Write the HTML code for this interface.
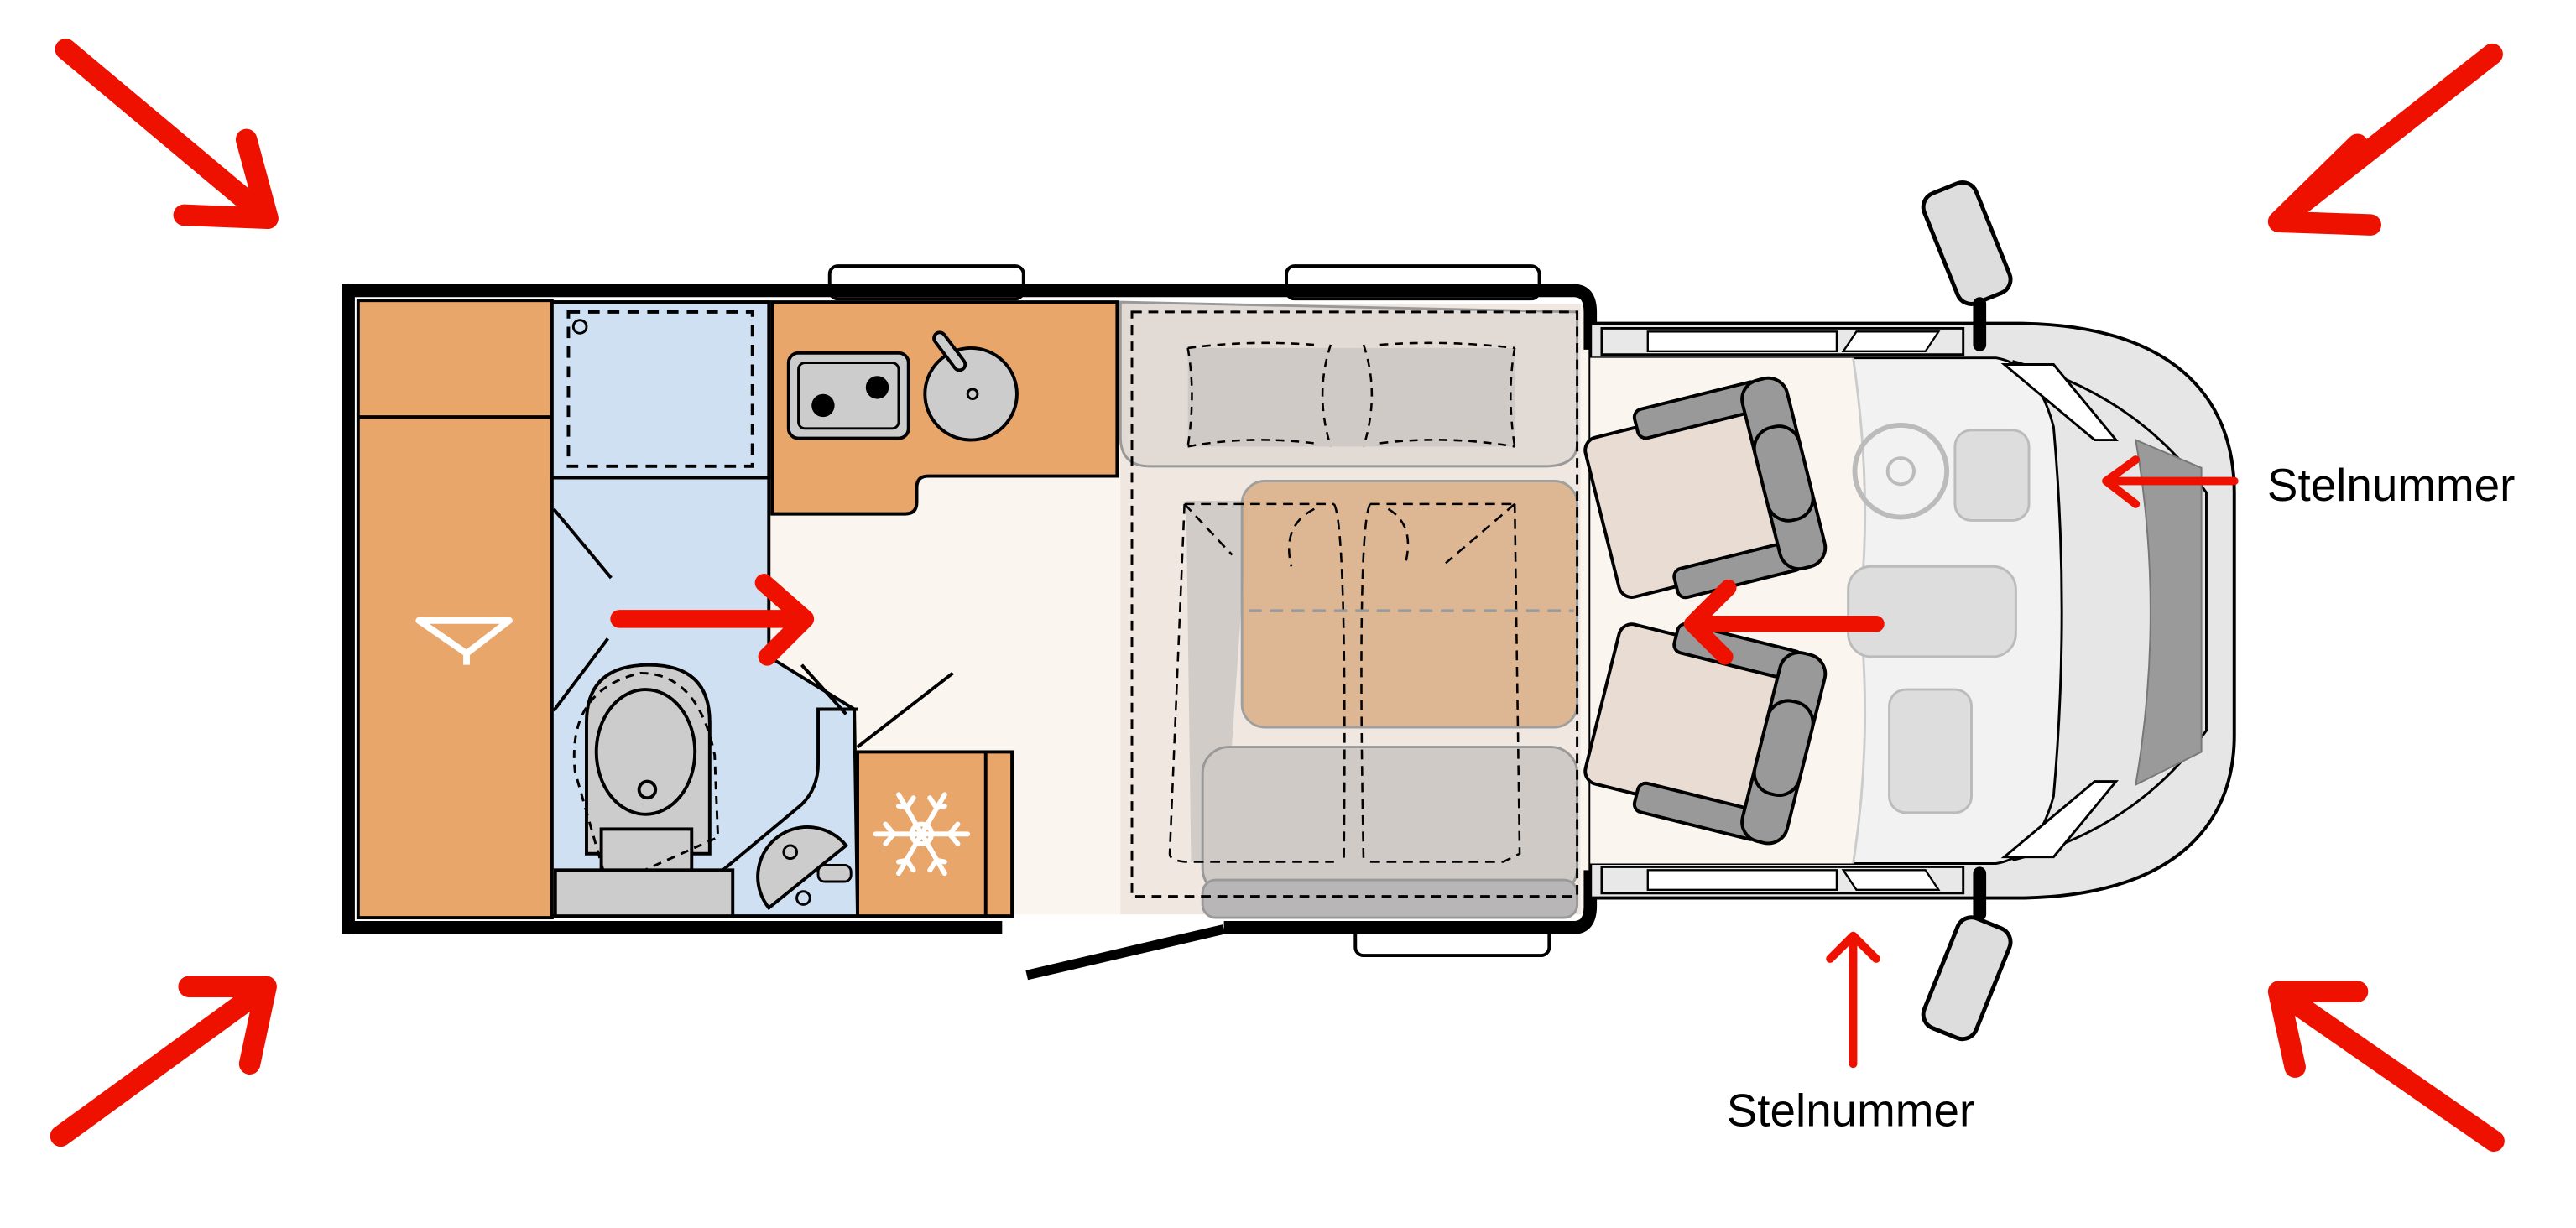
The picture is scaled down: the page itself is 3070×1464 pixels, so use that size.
<!DOCTYPE html>
<html><head><meta charset="utf-8"><style>
html,body{margin:0;padding:0;background:#fff;}
svg{display:block;}
text{font-family:"Liberation Sans",Arial,sans-serif;}
</style></head><body>
<svg width="3070" height="1464" viewBox="0 0 1568 748" preserveAspectRatio="none" xmlns="http://www.w3.org/2000/svg">
<rect width="1568" height="748" fill="#fff"/>
<!-- windows -->
<g fill="#fff" stroke="#000" stroke-width="2">
<rect x="505" y="162" width="118" height="20" rx="5"/>
<rect x="783" y="162" width="154" height="20" rx="5"/>
<rect x="825" y="562" width="118" height="20" rx="5"/>
</g>
<!-- floor -->
<rect x="468" y="185" width="500" height="372" fill="#faf5ef"/>
<!-- wardrobe -->
<rect x="218" y="183" width="118" height="376" fill="#e8a66a" stroke="#000" stroke-width="2"/>
<line x1="218" y1="254" x2="336" y2="254" stroke="#000" stroke-width="2"/>
<path d="M255,378 L310,378 L284,398 Z M284,398 L284,405" fill="none" stroke="#fff" stroke-width="4" stroke-linejoin="round"/>
<!-- bathroom -->
<path d="M336,184 L468,184 L468,400 L520,432 L522,558 L336,558 Z" fill="#cfe0f2" stroke="#000" stroke-width="2"/>
<rect x="336" y="184" width="132" height="107" fill="#cfe0f2" stroke="#000" stroke-width="2"/>
<rect x="346" y="190" width="112" height="94" fill="none" stroke="#000" stroke-width="2" stroke-dasharray="7,5"/>
<circle cx="353" cy="199" r="4" fill="none" stroke="#000" stroke-width="1.5"/>
<line x1="468" y1="290" x2="468" y2="380" stroke="#000" stroke-width="1.5" stroke-dasharray="5,4"/>
<line x1="337" y1="310" x2="372" y2="352" stroke="#000" stroke-width="2"/>
<line x1="337" y1="433" x2="370" y2="389" stroke="#000" stroke-width="2"/>
<line x1="488" y1="405" x2="515" y2="435" stroke="#000" stroke-width="2"/>
<line x1="522" y1="455" x2="580" y2="410" stroke="#000" stroke-width="2"/>
<!-- toilet -->
<path d="M357,520 L357,440 Q357,405 395,405 Q432,405 432,440 L432,520 Z" fill="#ccc" stroke="#000" stroke-width="2"/>
<ellipse cx="393" cy="458" rx="30" ry="38" fill="#ccc" stroke="#000" stroke-width="2"/>
<circle cx="394" cy="481" r="5" fill="none" stroke="#000" stroke-width="2"/>
<rect x="366" y="505" width="55" height="28" fill="#ccc" stroke="#000" stroke-width="2"/>
<path d="M370,540 L350,470 Q345,420 390,410 Q425,410 435,460 L437,510 Z" fill="none" stroke="#000" stroke-width="1.5" stroke-dasharray="5,4"/>
<rect x="338" y="530" width="108" height="28" fill="#ccc" stroke="#000" stroke-width="2"/>
<path d="M440,530 L488,490 Q498,480 498,465 L498,432 L522,432" fill="none" stroke="#000" stroke-width="2"/>
<path d="M468,553 A28,28 0 1 1 515,515 Z" fill="#ccc" stroke="#000" stroke-width="2"/>
<circle cx="481" cy="519" r="4" fill="none" stroke="#000" stroke-width="1.5"/>
<circle cx="489" cy="547" r="4" fill="none" stroke="#000" stroke-width="1.5"/>
<rect x="498" y="527" width="20" height="10" rx="4" fill="#ccc" stroke="#000" stroke-width="1.5"/>
<!-- fridge -->
<rect x="522" y="458" width="94" height="100" fill="#e8a66a" stroke="#000" stroke-width="2"/>
<line x1="600" y1="458" x2="600" y2="558" stroke="#000" stroke-width="2"/>
<g stroke="#fff" stroke-width="3" stroke-linecap="round" fill="none" transform="translate(561,508)">
<line x1="-28" y1="0" x2="28" y2="0"/><line x1="-14" y1="-24" x2="14" y2="24"/><line x1="-14" y1="24" x2="14" y2="-24"/>
<path d="M-22,-6 L-17,0 L-22,6 M22,-6 L17,0 L22,6 M-14,-17 L-9,-16 L-5,-22 M14,17 L9,16 L5,22 M14,-17 L9,-16 L5,-22 M-14,17 L-9,16 L-5,22"/>
<circle r="6"/>
</g>
<!-- kitchen -->
<path d="M470,184 L680,184 L680,290 L565,290 Q558,290 558,297 L558,306 Q558,313 551,313 L470,313 Z" fill="#e8a66a" stroke="#000" stroke-width="2"/>
<rect x="480" y="215" width="73" height="52" rx="6" fill="#ccc" stroke="#000" stroke-width="2"/>
<rect x="486" y="221" width="61" height="40" rx="4" fill="#ccc" stroke="#000" stroke-width="1.5"/>
<circle cx="501" cy="247" r="7" fill="#000"/><circle cx="534" cy="236" r="7" fill="#000"/>
<circle cx="591" cy="240" r="28" fill="#ccc" stroke="#000" stroke-width="2"/>
<line x1="572" y1="206" x2="584" y2="222" stroke="#000" stroke-width="9" stroke-linecap="round"/>
<line x1="572" y1="206" x2="584" y2="222" stroke="#ccc" stroke-width="5" stroke-linecap="round"/>
<circle cx="592" cy="240" r="3" fill="none" stroke="#000" stroke-width="1.5"/>
<!-- dinette -->
<rect x="682" y="185" width="280" height="372" fill="#efe7e0"/>
<path d="M682,184 L960,190 L960,270 Q960,284 940,284 L700,284 Q682,284 682,266 Z" fill="#e2dbd5" stroke="#999" stroke-width="1.5"/>
<path d="M723,212 L922,212 L922,272 L723,272 Z" fill="#cfcac6"/>
<path d="M722,305 L760,305 L745,525 L725,525 Z" fill="#d2ccc8"/>
<rect x="732" y="455" width="228" height="90" rx="16" fill="#cfcac6" stroke="#999" stroke-width="1.5"/>
<rect x="732" y="536" width="228" height="23" rx="8" fill="#b8b6b6" stroke="#999" stroke-width="1.5"/>
<rect x="756" y="293" width="204" height="150" rx="14" fill="#dcb48e" stroke="#999" stroke-width="1.5" opacity="0.92"/>
<rect x="689" y="190" width="271" height="356" fill="none" stroke="#000" stroke-width="1.5" stroke-dasharray="6,4"/>
<path d="M723,212 Q760,207 800,210 M840,210 Q880,207 922,212 M723,212 Q728,240 723,272 M922,212 Q917,240 922,272 M723,272 Q760,265 800,270 M840,270 Q880,265 922,272 M810,210 Q800,240 810,272 M830,210 Q840,240 830,272" stroke="#000" stroke-width="1.3" stroke-dasharray="5,4" fill="none"/>
<path d="M721,307 L812,307 M834,307 L922,307 M721,307 L750,338 M922,307 L880,343 M800,310 Q780,320 786,345 M845,310 Q862,320 855,345 M721,307 L712,520 Q712,525 725,525 L812,525 M834,525 L915,525 L925,520 L922,307 M812,307 Q820,320 818,525 M834,307 Q826,320 830,525" stroke="#000" stroke-width="1.3" stroke-dasharray="6,4" fill="none"/>
<line x1="760" y1="372" x2="958" y2="372" stroke="#999" stroke-width="1.8" stroke-dasharray="8,5"/>
<!-- outer walls -->
<path d="M212,177 L958,177 Q968,177 968,190 L968,213" fill="none" stroke="#000" stroke-width="8"/>
<path d="M212,173 L212,569" stroke="#000" stroke-width="8"/>
<path d="M212,565 L610,565" stroke="#000" stroke-width="8"/>
<path d="M745,565 L958,565 Q968,565 968,552 L968,530" fill="none" stroke="#000" stroke-width="8"/>
<line x1="625" y1="594" x2="745" y2="566" stroke="#000" stroke-width="6"/>
<!-- cab -->
<path d="M968,197 L1230,197 C1320,198 1360,240 1360,300 L1360,448 C1360,505 1320,546 1230,547 L968,547 Z" fill="#e6e6e6" stroke="#000" stroke-width="2"/>
<path d="M968,218 L1215,218 Q1240,222 1250,260 Q1260,372 1250,485 Q1240,522 1215,526 L968,526 Z" fill="#f2f2f2" stroke="#000" stroke-width="1.5"/>
<path d="M968,218 L1128,218 Q1140,300 1132,372 Q1140,450 1128,526 L968,526 Z" fill="#faf5ef"/>
<path d="M1128,218 Q1140,300 1132,372 Q1140,450 1128,526" fill="none" stroke="#ccc" stroke-width="1.5"/>
<path d="M1225,220 Q1300,240 1343,300 L1343,445 Q1300,505 1225,524" fill="none" stroke="#000" stroke-width="1.5"/>
<path d="M1300,268 L1340,285 L1340,458 L1300,478 Q1318,372 1300,268 Z" fill="#9a9a9a" stroke="#777" stroke-width="1"/>
<path d="M1220,222 L1275,268 L1288,268 L1250,222 Z M1220,522 L1275,476 L1288,476 L1250,522 Z" fill="#fff" stroke="#000" stroke-width="1.5"/>
<path d="M975,200 L1195,200 L1195,216 L975,216 Z M975,528 L1195,528 L1195,544 L975,544 Z" fill="#e8e8e8" stroke="#000" stroke-width="1.5"/>
<rect x="1003" y="202" width="115" height="12" fill="#fff" stroke="#000" stroke-width="1.2"/>
<rect x="1003" y="530" width="115" height="12" fill="#fff" stroke="#000" stroke-width="1.2"/>
<path d="M1122,214 L1130,202 L1180,202 L1172,214 Z M1122,530 L1130,542 L1180,542 L1172,530 Z" fill="#fff" stroke="#000" stroke-width="1.2"/>
<!-- cab interior faint -->
<g fill="#ddd" stroke="#bbb" stroke-width="1.5">
<rect x="1190" y="262" width="45" height="55" rx="10"/>
<rect x="1125" y="345" width="102" height="55" rx="14"/>
<rect x="1150" y="420" width="50" height="75" rx="10"/>
</g>
<circle cx="1157" cy="287" r="28" fill="none" stroke="#bbb" stroke-width="3"/>
<circle cx="1157" cy="287" r="8" fill="none" stroke="#bbb" stroke-width="2"/>
<!-- cab seats -->
<g transform="translate(1035,300) rotate(-14)">
<rect x="-62" y="-48" width="112" height="100" rx="8" fill="#e8dcd3" stroke="#000" stroke-width="2"/>
<rect x="-28" y="-58" width="78" height="18" rx="5" fill="#999" stroke="#000" stroke-width="2"/>
<rect x="-28" y="42" width="78" height="18" rx="5" fill="#999" stroke="#000" stroke-width="2"/>
<rect x="38" y="-58" width="28" height="118" rx="12" fill="#999" stroke="#000" stroke-width="2"/>
<rect x="38" y="-28" width="28" height="58" rx="13" fill="#999" stroke="#000" stroke-width="2"/>
</g>
<g transform="translate(1035,444) rotate(14)">
<rect x="-62" y="-52" width="112" height="100" rx="8" fill="#e8dcd3" stroke="#000" stroke-width="2"/>
<rect x="-28" y="-60" width="78" height="18" rx="5" fill="#999" stroke="#000" stroke-width="2"/>
<rect x="-28" y="40" width="78" height="18" rx="5" fill="#999" stroke="#000" stroke-width="2"/>
<rect x="38" y="-60" width="28" height="118" rx="12" fill="#999" stroke="#000" stroke-width="2"/>
<rect x="38" y="-30" width="28" height="58" rx="13" fill="#999" stroke="#000" stroke-width="2"/>
</g>
<!-- mirrors -->
<g transform="translate(1198,150) rotate(-22)"><rect x="-17" y="-38" width="34" height="72" rx="9" fill="#ddd" stroke="#000" stroke-width="2.5"/></g>
<line x1="1205" y1="185" x2="1205" y2="210" stroke="#000" stroke-width="8" stroke-linecap="round"/>
<g transform="translate(1198,594) rotate(22)"><rect x="-17" y="-34" width="34" height="72" rx="9" fill="#ddd" stroke="#000" stroke-width="2.5"/></g>
<line x1="1205" y1="532" x2="1205" y2="557" stroke="#000" stroke-width="8" stroke-linecap="round"/>
<!-- red arrows -->
<g stroke="#ee1100" stroke-width="13" stroke-linecap="round" stroke-linejoin="round" fill="none">
<path d="M40,30 L163,133 M150,85 L163,133 L112,131"/>
<path d="M1517,33 L1387,135 M1435,88 L1387,135 L1443,137"/>
<path d="M37,692 L162,601 M115,601 L162,601 L152,648"/>
<path d="M1518,695 L1387,604 M1435,604 L1387,604 L1397,650"/>
<path d="M377,377 L490,377 M465,355 L490,377 L467,400" stroke-width="11"/>
<path d="M1142,380 L1030,380 M1052,358 L1030,380 L1050,400" stroke-width="10"/>
<path d="M1360,293 L1282,293 M1300,280 L1282,293 L1300,307" stroke-width="5"/>
<path d="M1128,648 L1128,570 M1114,584 L1128,570 L1142,584" stroke-width="5"/>
</g>
<text x="1380" y="305" font-size="28" fill="#000">Stelnummer</text>
<text x="1051" y="686" font-size="28" fill="#000">Stelnummer</text>
</svg>
</body></html>
